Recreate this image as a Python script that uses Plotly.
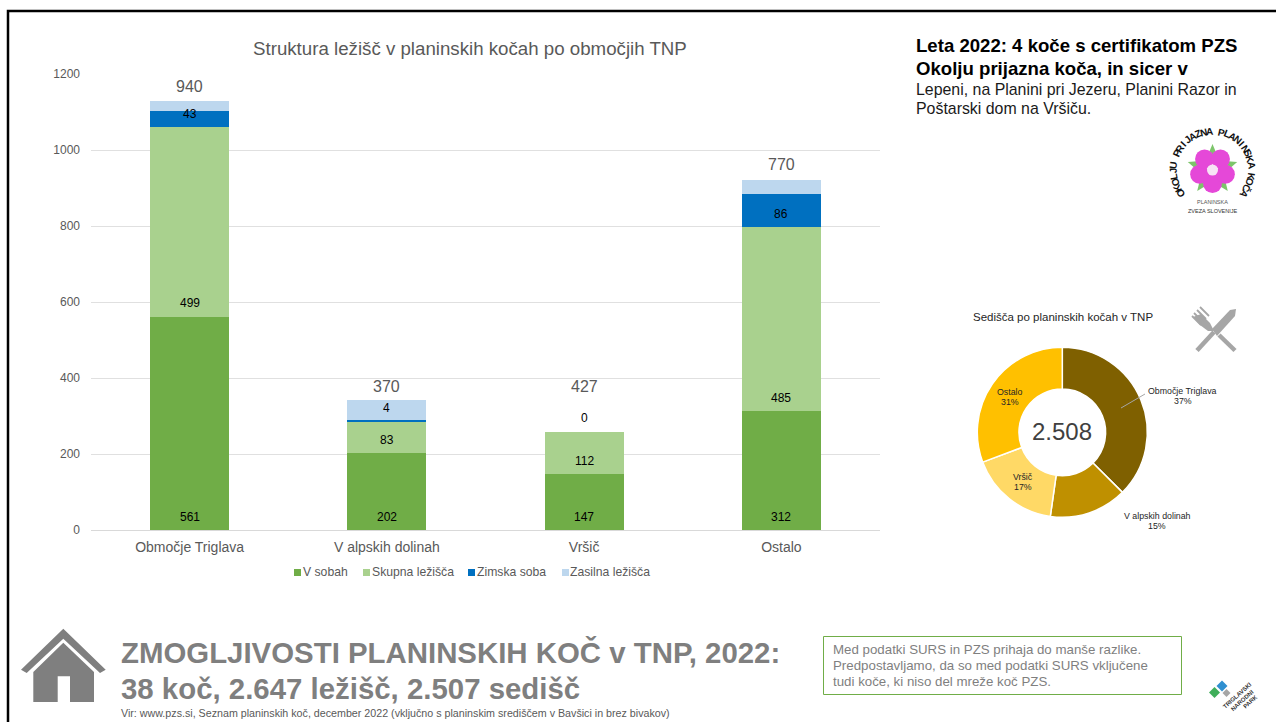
import math
import plotly.graph_objects as go

W, H = 1276, 722

# ---- data ----
categories = ["Območje Triglava", "V alpskih dolinah", "Vršič", "Ostalo"]
v_sobah = [561, 202, 147, 312]
skupna = [499, 83, 112, 485]
zimska = [43, 4, 0, 86]
zasilna = [26, 53, 0, 37]
sedisca = [940, 370, 427, 770]
y_ticks = [0, 200, 400, 600, 800, 1000, 1200]
series_names = ["V sobah", "Skupna ležišča", "Zimska soba", "Zasilna ležišča"]

# ---- style ----
FONT = "Liberation Sans"
BAR_COLORS = ["#70AD47", "#A9D18E", "#0070C0", "#BDD7EE"]
PIE_COLORS = ["#7F6000", "#BF9000", "#FFD966", "#FFC000"]
GRAY = "#595959"
ICON = "#7F7F7F"
total_shift = [14, 14, 45, 16]


def px(x):
    return x / W


def py(y):
    return 1 - y / H


annotations = []
shapes = []


def txt(x, y, text, size, color="#000000", bold=False, anchor="center", angle=0, family=FONT):
    annotations.append(dict(
        xref="paper", yref="paper", x=px(x), y=py(y), text=f"<b>{text}</b>" if bold else text,
        showarrow=False, xanchor=anchor, yanchor="middle", textangle=angle,
        font=dict(family=family, size=size, color=color), borderpad=0, borderwidth=0,
    ))


def path(points, color, line=None, close=True):
    d = "M" + " L".join(f"{px(a):.5f},{py(b):.5f}" for a, b in points) + (" Z" if close else "")
    shapes.append(dict(type="path", xref="paper", yref="paper", path=d,
                       fillcolor=color if close else "rgba(0,0,0,0)",
                       line=dict(color=line or color, width=0 if (close and not line) else 1)))


def seg(x0, y0, x1, y1, color, width):
    shapes.append(dict(type="line", xref="paper", yref="paper", x0=px(x0), y0=py(y0), x1=px(x1), y1=py(y1),
                       line=dict(color=color, width=width)))


def rect(x0, y0, x1, y1, fill, line=None, lw=0):
    shapes.append(dict(type="rect", xref="paper", yref="paper", x0=px(x0), y0=py(y0), x1=px(x1), y1=py(y1),
                       fillcolor=fill, line=dict(color=line or fill, width=lw)))


def circle(cx, cy, r, color):
    rect_shape = dict(type="circle", xref="paper", yref="paper", x0=px(cx - r), y0=py(cy - r), x1=px(cx + r),
                      y1=py(cy + r), fillcolor=color, line=dict(width=0))
    shapes.append(rect_shape)


fig = go.Figure()
for name, vals, col in zip(series_names, [v_sobah, skupna, zimska, zasilna], BAR_COLORS):
    fig.add_trace(go.Bar(x=categories, y=vals, name=name, marker=dict(color=col, line=dict(width=0)),
                         showlegend=False, xaxis="x", yaxis="y"))

# bar data labels: each sits just above the base of its segment
base = [0, 0, 0, 0]
for vals in [v_sobah, skupna, zimska]:
    for i, c in enumerate(categories):
        annotations.append(dict(xref="x", yref="y", x=c, y=base[i], yshift=13.5, text=str(vals[i]), showarrow=False,
                                xanchor="center", yanchor="middle", font=dict(family=FONT, size=12, color="#000000")))
        base[i] += vals[i]
for i, c in enumerate(categories):
    top = base[i] + zasilna[i]
    annotations.append(dict(xref="x", yref="y", x=c, y=top, yshift=total_shift[i], text=str(sedisca[i]), showarrow=False,
                            xanchor="center", yanchor="middle", font=dict(family=FONT, size=16, color=GRAY)))

fig.add_trace(go.Pie(labels=categories, values=sedisca, sort=False, direction="clockwise", rotation=0, hole=0.51,
                     textinfo="none", showlegend=False, marker=dict(colors=PIE_COLORS, line=dict(color="#FFFFFF", width=1.5)),
                     domain=dict(x=[px(1062.3 - 85), px(1062.3 + 85)], y=[py(432.3 + 85), py(432.3 - 85)])))

# page frame
rect(8, 11, W + 5, H + 5, "rgba(0,0,0,0)", "#000000", 2.5)

# chart title and legend
txt(470, 48, "Struktura ležišč v planinskih kočah po območjih TNP", 18.7, GRAY)
for x0, tx, name, col in zip([294, 363, 468, 562], [303, 372, 477, 570], series_names, BAR_COLORS):
    rect(x0, 569, x0 + 7, 576, col)
    txt(tx, 572, name, 12.2, GRAY, anchor="left")

# doughnut texts
txt(1062.5, 317, "Sedišča po planinskih kočah v TNP", 11.5, "#262626")
txt(1062.3, 431.5, "2.508", 24, "#404040")
total = sum(sedisca)
pct = [f"{round(v / total * 100)}%" for v in sedisca]
for (lx, ly), c, p in zip([(1182.5, 390.7), (1157, 515.7), (1022.7, 476.7), (1010, 391.7)], categories, pct):
    txt(lx, ly, c, 8.8, "#262626")
    txt(lx, ly + 10.3, p, 8.8, "#262626")
seg(1121, 408, 1145, 394, "#A6A6A6", 1)

# right text block
txt(916, 45.5, "Leta 2022: 4 koče s certifikatom PZS", 18.6, "#000000", True, "left")
txt(916, 68.5, "Okolju prijazna koča, in sicer v", 18.6, "#000000", True, "left")
txt(916, 89, "Lepeni, na Planini pri Jezeru, Planini Razor in", 15.9, "#1a1a1a", anchor="left")
txt(916, 108, "Poštarski dom na Vršiču.", 15.9, "#1a1a1a", anchor="left")

# certificate badge
bx, by = 1212.5, 170
phrase = "OKOLJU PRIJAZNA PLANINSKA KOČA"
for i, ch in enumerate(phrase):
    th = math.radians(-126 + 252 * i / (len(phrase) - 1))
    txt(bx + 39 * math.sin(th), by - 39 * math.cos(th), ch, 10, "#111111", True, angle=math.degrees(th))
for k in range(5):
    a = math.radians(72 * k)
    lx, ly = bx + 26 * math.sin(a), by - 26 * math.cos(a)
    nx, ny = math.cos(a) * 5, math.sin(a) * 5
    px0, py0 = bx + 14 * math.sin(a), by - 14 * math.cos(a)
    path([(px0 + nx, py0 + ny), (lx, ly), (px0 - nx, py0 - ny)], "#7DC56B")
for k in range(5):
    a = math.radians(180 + 72 * k)
    circle(bx + 13.5 * math.sin(a), by - 13.5 * math.cos(a), 9.5, "#E548D8")
circle(bx, by, 5.5, "#F7E3F5")
txt(bx, 202, "PLANINSKA", 5.5, "#555555")
txt(bx, 211, "ZVEZA SLOVENIJE", 5.5, "#333333")

# cutlery icon
CUT = "#A6A6A6"
seg(1197, 350.5, 1214, 332, CUT, 4.5)
path([(1212, 329), (1230, 310), (1236, 309), (1235, 316), (1217, 336)], CUT)
seg(1235, 350.5, 1219, 335, CUT, 4.5)
path([(1201, 314), (1210, 323), (1214, 331), (1208, 331), (1200, 325), (1193, 317)], CUT)
for (a, b) in [(1200, 307), (1197, 310), (1194, 313), (1192, 316)]:
    seg(a, b, a + 9, b + 9, CUT, 1.8)

# bottom headline
path([(63.3, 628.7), (105.7, 669.7), (100, 673), (63.3, 638.7), (26.7, 673), (21, 669.7)], ICON)
path([(63.3, 642.7), (94, 672), (94, 702), (70, 702), (70, 676.3), (57.7, 676.3), (57.7, 702), (33.3, 702), (33.3, 672)], ICON)
txt(121, 652, "ZMOGLJIVOSTI PLANINSKIH KOČ v TNP, 2022:", 29.4, ICON, True, "left")
txt(121, 688, "38 koč, 2.647 ležišč, 2.507 sedišč", 29.4, ICON, True, "left")
txt(121, 713, "Vir: www.pzs.si, Seznam planinskih koč, december 2022 (vključno s planinskim središčem v Bavšici in brez bivakov)", 10.7, GRAY, anchor="left")

# note box
rect(823.5, 636.5, 1181.5, 694.5, "#FFFFFF", "#70AD47", 1)
for ly, line in zip([649, 665.5, 681], ["Med podatki SURS in PZS prihaja do manše razlike.",
                                        "Predpostavljamo, da so med podatki SURS vključene",
                                        "tudi koče, ki niso del mreže koč PZS."]):
    txt(833, ly, line, 13.3, ICON, anchor="left")

# park logo
for (cx, cy, col, r) in [(1214.5, 692.5, "#3FAE5A", 5.5), (1222, 686, "#2F8FD0", 5.5), (1226.5, 693, "#A6A6A6", 4)]:
    path([(cx, cy - r), (cx + r, cy), (cx, cy + r), (cx - r, cy)], col)
txt(1236.5, 695.5, "TRIGLAVSKI", 6, "#333333", True, angle=-42)
txt(1241.5, 700.5, "NARODNI", 6, "#333333", True, angle=-42)
txt(1250, 702, "PARK", 6, "#333333", True, angle=-42)

fig.update_layout(
    width=W, height=H, margin=dict(l=0, r=0, t=0, b=0, autoexpand=False), paper_bgcolor="#FFFFFF", plot_bgcolor="#FFFFFF",
    barmode="stack", bargap=0.6, showlegend=False, annotations=annotations, shapes=shapes,
    font=dict(family=FONT, color=GRAY),
    xaxis=dict(domain=[px(91), px(880)], showgrid=False, showline=True, linecolor="#D9D9D9", linewidth=1,
               ticks="", ticklabelstandoff=4, tickfont=dict(size=14, color=GRAY, family=FONT)),
    yaxis=dict(domain=[py(530), py(74)], range=[0, 1200], tickvals=y_ticks, showgrid=True, gridcolor="#E0E0E0",
               gridwidth=1, zeroline=False, showline=False, ticks="", ticklabelstandoff=10,
               tickfont=dict(size=12, color=GRAY, family=FONT)),
)

fig.write_html("out.html", post_script="document.body.style.margin='0';document.documentElement.style.overflow='hidden';",
               config=dict(displayModeBar=False))
